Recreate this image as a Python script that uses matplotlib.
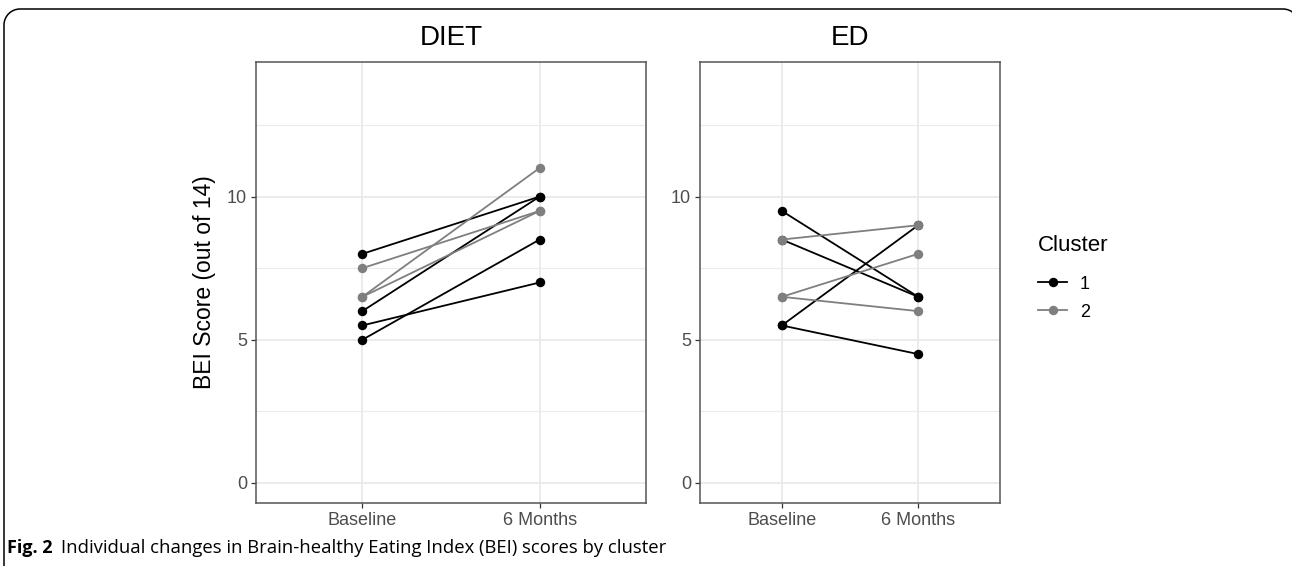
import matplotlib
matplotlib.use('Agg')
import matplotlib.pyplot as plt
from matplotlib.patches import PathPatch
from matplotlib.path import Path
from matplotlib.lines import Line2D
from matplotlib.transforms import Affine2D

# ---- data ----
times = ['Baseline', '6 Months']
panels = ['DIET', 'ED']
clusters = ['1', '2']
diet_cluster1 = [[8, 10], [6, 10], [5.5, 7], [5, 8.5]]
diet_cluster2 = [[7.5, 9.5], [6.5, 11], [6.5, 9.5]]
ed_cluster1 = [[9.5, 6.5], [8.5, 6.5], [5.5, 9], [5.5, 4.5]]
ed_cluster2 = [[8.5, 9], [6.5, 8], [6.5, 6]]
yticks = [0, 5, 10]
yminor = [2.5, 7.5, 12.5]

colors = {'1': '#000000', '2': '#7f7f7f'}

W, H = 1292, 566
fig = plt.figure(figsize=(W / 100, H / 100), dpi=100)
plt.rcParams['font.family'] = ['Liberation Sans', 'DejaVu Sans']


def box(l, t, r, b):
    return [l / W, 1 - b / H, (r - l) / W, (b - t) / H]


ax1 = fig.add_axes(box(256, 62, 646, 503))
ax2 = fig.add_axes(box(700, 62, 1000, 503))

data = {'DIET': (diet_cluster1, diet_cluster2), 'ED': (ed_cluster1, ed_cluster2)}
xpos = list(range(1, len(times) + 1))

for ax, name in zip([ax1, ax2], panels):
    c1, c2 = data[name]
    for series, cl in ((c1, '1'), (c2, '2')):
        for vals in series:
            ax.plot(xpos, vals, color=colors[cl], lw=1.3, marker='o',
                    markersize=6.8, markeredgewidth=0, zorder=3)
    ax.set_xlim(0.4, 2.6)
    ax.set_ylim(-0.7, 14.7)
    ax.set_xticks(xpos)
    ax.set_xticklabels(times)
    ax.set_yticks(yticks)
    ax.set_yticks(yminor, minor=True)
    ax.grid(True, which='major', color='#ebebeb', lw=1.4, zorder=0)
    ax.grid(True, which='minor', axis='y', color='#ebebeb', lw=0.8, zorder=0)
    ax.tick_params(which='minor', length=0)
    ax.tick_params(which='major', length=3.5, width=0.9, color='#333333',
                   labelcolor='#4d4d4d', labelsize=13, pad=3)
    for s in ax.spines.values():
        s.set_color('#555555')
        s.set_linewidth(1.1)
    ax.set_axisbelow(True)
    ax.set_title(name, fontsize=20, pad=12)

ax1.set_ylabel('BEI Score (out of 14)', fontsize=16.5, labelpad=8)

handles = [Line2D([], [], color=colors[c], lw=1.3, marker='o', markersize=6.8,
                  markeredgewidth=0) for c in clusters]
leg = fig.legend(handles, clusters, title='Cluster', loc='upper left',
                 bbox_to_anchor=(1022 / W, 1 - 219 / H), frameon=False,
                 fontsize=13, title_fontsize=16, handlelength=1.6,
                 handletextpad=0.7, labelspacing=0.6, alignment='left')
leg._legend_box.sep = 14

# figure frame (rounded top corners), pixel coords with y downwards
r = 16
k = 0.5523 * r
L, T, R, B = 4, 9, 1299, 600
verts = [(L, B), (L, T + r), (L, T + r - k), (L + r - k, T), (L + r, T),
         (R - r, T), (R - r + k, T), (R, T + r - k), (R, T + r), (R, B)]
codes = [Path.MOVETO, Path.LINETO, Path.CURVE4, Path.CURVE4, Path.CURVE4,
         Path.LINETO, Path.CURVE4, Path.CURVE4, Path.CURVE4, Path.LINETO]
tr = Affine2D().scale(1 / W, -1 / H).translate(0, 1) + fig.transFigure
frame = PathPatch(Path(verts, codes), transform=tr, fill=False, ec='black', lw=1.1)
fig.patches.append(frame)

fig.text(7 / W, 1 - 548 / H, 'Fig. 2', fontsize=13, fontweight='bold',
         family='Open Sans', va='center', ha='left')
fig.text(61 / W, 1 - 548 / H,
         'Individual changes in Brain-healthy Eating Index (BEI) scores by cluster',
         fontsize=13.3, family='Open Sans', va='center', ha='left')

fig.savefig('out.png', dpi=100)
